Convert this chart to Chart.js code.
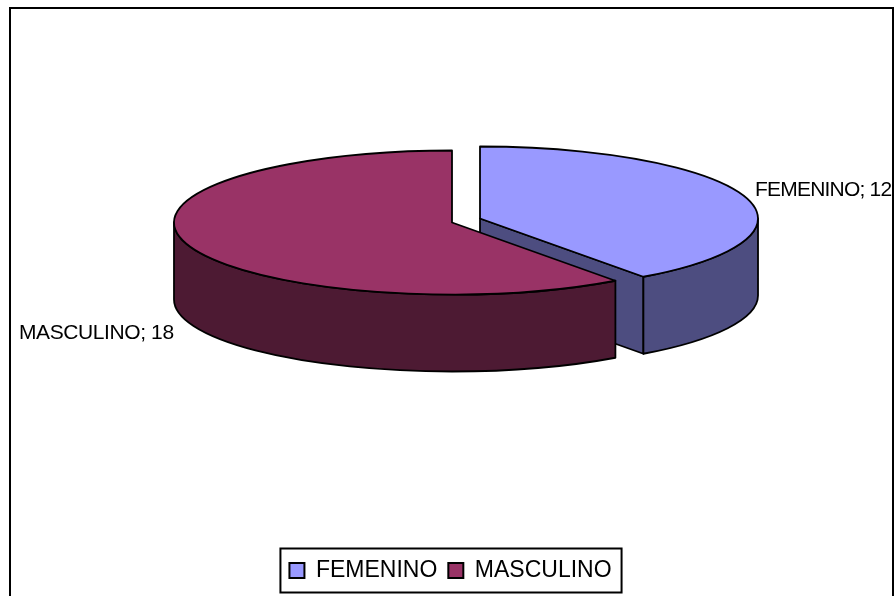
<!DOCTYPE html>
<html><head><meta charset="utf-8">
<style>html,body{margin:0;padding:0;background:#fff;overflow:hidden}canvas{display:block}</style>
<script src="https://cdn.jsdelivr.net/npm/chart.js@4"></script>
</head><body>
<canvas id="c" width="894" height="596"></canvas>
<script>
const categories = ['FEMENINO', 'MASCULINO'];
const values = [12, 18];
const topColors = ['#9999FF', '#993366'];
const wallColors = ['#4D4D80', '#4D1A33'];
const pieCenter = {x: 466, y: 220.5};
const squash = 0.259, depth = 77, radius = 278;
const explode = [[14, -2], [-14, 2]];
const labelPos = [[755, 196], [19, 339]];
const labelSpacing = ['-0.8px', '-0.4px'];
const LINE = 1.8;

function geom(chart, el) {
  const a = chart.chartArea;
  const cx = (a.left + a.right) / 2, cy = (a.top + a.bottom) / 2;
  return {x: pieCenter.x + (el.x - cx), y: pieCenter.y + (el.y - cy) * squash,
          r: el.outerRadius, ry: el.outerRadius * squash, s: el.startAngle, e: el.endAngle};
}
const pie3d = {
  id: 'pie3d',
  afterDatasetsUpdate(chart) {
    const arcs = chart.getDatasetMeta(0).data;
    arcs.forEach((el, i) => {
      el.x += explode[i][0];
      el.y += explode[i][1] / squash;
    });
  },
  beforeDraw(chart) {
    const ctx = chart.ctx;
    ctx.save();
    ctx.strokeStyle = '#000';
    ctx.lineWidth = 2;
    ctx.beginPath();
    ctx.moveTo(10, 596); ctx.lineTo(10, 8); ctx.lineTo(893, 8); ctx.lineTo(893, 596);
    ctx.stroke();
    const hb = chart.legend.legendHitBoxes;
    const first = hb[0], last = hb[hb.length - 1];
    const L = first.left - 9, R = last.left + last.width + 10;
    const cy = first.top + first.height / 2;
    ctx.strokeRect(L, cy - 22, R - L, 44);
    ctx.restore();
  },
  beforeDatasetsDraw(chart) {
    const ctx = chart.ctx;
    const arcs = chart.getDatasetMeta(0).data;
    ctx.save();
    ctx.strokeStyle = '#000';
    ctx.lineWidth = LINE;
    ctx.lineJoin = 'round';
    arcs.forEach((el, i) => {
      const g = geom(chart, el);
      ctx.fillStyle = wallColors[i];
      const edge = (ang) => {
        const px = g.x + g.r * Math.cos(ang), py = g.y + g.ry * Math.sin(ang);
        ctx.beginPath();
        ctx.moveTo(g.x, g.y); ctx.lineTo(px, py);
        ctx.lineTo(px, py + depth); ctx.lineTo(g.x, g.y + depth);
        ctx.closePath(); ctx.fill(); ctx.stroke();
      };
      if (Math.cos(g.e) > 1e-6) edge(g.e);
      if (-Math.cos(g.s) > 1e-6) edge(g.s);
      const a = Math.max(g.s, 0), b = Math.min(g.e, Math.PI);
      if (b > a) {
        ctx.beginPath();
        ctx.ellipse(g.x, g.y, g.r, g.ry, 0, a, b);
        ctx.ellipse(g.x, g.y + depth, g.r, g.ry, 0, b, a, true);
        ctx.closePath(); ctx.fill(); ctx.stroke();
      }
    });
    ctx.restore();
    const ar = chart.chartArea;
    ctx.save();
    ctx.translate(pieCenter.x, pieCenter.y);
    ctx.scale(1, squash);
    ctx.translate(-(ar.left + ar.right) / 2, -(ar.top + ar.bottom) / 2);
  },
  afterDatasetsDraw(chart) {
    const ctx = chart.ctx;
    ctx.restore();
    const arcs = chart.getDatasetMeta(0).data;
    ctx.save();
    ctx.strokeStyle = '#000';
    ctx.lineWidth = LINE;
    ctx.lineJoin = 'round';
    arcs.forEach((el) => {
      const g = geom(chart, el);
      ctx.beginPath();
      ctx.moveTo(g.x, g.y);
      ctx.ellipse(g.x, g.y, g.r, g.ry, 0, g.s, g.e);
      ctx.closePath();
      ctx.stroke();
    });
    ctx.fillStyle = '#000';
    ctx.font = '21px "Liberation Sans", Arial, sans-serif';
    ctx.textBaseline = 'alphabetic';
    ctx.textAlign = 'left';
    categories.forEach((c, i) => {
      ctx.letterSpacing = labelSpacing[i];
      ctx.fillText(c + '; ' + values[i], labelPos[i][0], labelPos[i][1]);
    });
    ctx.restore();
  }
};

new Chart(document.getElementById('c'), {
  type: 'pie',
  data: {
    labels: categories,
    datasets: [{
      data: values,
      backgroundColor: topColors,
      borderWidth: 0,
      radius: radius,
      clip: false
    }]
  },
  options: {
    responsive: false,
    animation: false,
    events: [],
    layout: {padding: {left: 7, right: 0, top: 0, bottom: 4}},
    plugins: {
      tooltip: {enabled: false},
      legend: {
        position: 'bottom',
        labels: {
          boxWidth: 15,
          boxHeight: 15,
          padding: 11,
          color: '#000',
          font: {family: '"Liberation Sans", Arial, sans-serif', size: 23},
          generateLabels(chart) {
            return Chart.overrides.pie.plugins.legend.labels.generateLabels(chart)
              .map(l => Object.assign(l, {strokeStyle: '#000', lineWidth: 2}));
          }
        }
      }
    }
  },
  plugins: [pie3d]
});
</script>
</body></html>
